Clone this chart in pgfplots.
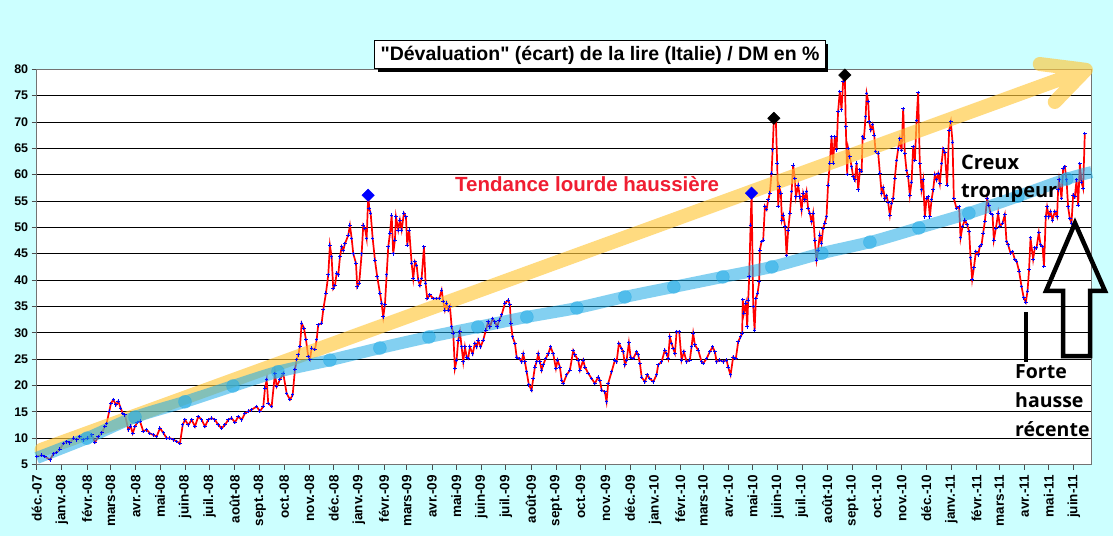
\documentclass[border=0pt]{standalone}
\usepackage{fontspec}
\setmainfont{Liberation Sans}
\newfontfamily\annfont{Open Sans}
\usepackage{pgfplots}
\pgfplotsset{compat=1.18}
\usetikzlibrary{shadows}
\definecolor{bgc}{RGB}{204,255,255}
\definecolor{trendblue}{RGB}{30,170,230}
\definecolor{arrowyellow}{RGB}{255,200,60}
\definecolor{tred}{RGB}{240,30,50}
\begin{document}
\begin{tikzpicture}[x=1pt,y=1pt]
\fill[bgc] (0,0) rectangle (1113,536);
\path[use as bounding box] (0,0) rectangle (1113,536);
\begin{axis}[
  at={(36.7pt,71.5pt)}, anchor=south west,
  scale only axis, width=1055pt, height=395.2pt,
  xmin=0, xmax=1300, ymin=5, ymax=80,
  axis background/.style={fill=white},
  clip=false,
  ytick={5,10,...,80},
  ymajorgrids, major grid style={black, line width=0.9pt},
  xtick={0,31,62,91,122,152,183,213,244,275,305,336,366,397,428,456,487,517,548,578,609,640,670,701,731,762,793,821,852,882,913,943,974,1005,1035,1066,1096,1127,1158,1186,1217,1247,1278},
  xticklabels={déc.-07,janv.-08,févr.-08,mars-08,avr.-08,mai-08,juin-08,juil.-08,août-08,sept.-08,oct.-08,nov.-08,déc.-08,janv.-09,févr.-09,mars-09,avr.-09,mai-09,juin-09,juil.-09,août-09,sept.-09,oct.-09,nov.-09,déc.-09,janv.-10,févr.-10,mars-10,avr.-10,mai-10,juin-10,juil.-10,août-10,sept.-10,oct.-10,nov.-10,déc.-10,janv.-11,févr.-11,mars-11,avr.-11,mai-11,juin-11},
  tick align=outside, xtick pos=lower, ytick pos=left,
  major tick length=5pt,
  tick style={black!70, line width=0.8pt},
  axis line style={black!55, line width=0.9pt},
  /pgf/number format/assume math mode=true,
  yticklabel style={font=\fontsize{12.5}{12.5}\selectfont\bfseries},
  xticklabel style={rotate=90, anchor=east, font=\fontsize{13.5}{13.5}\selectfont\bfseries},
  xticklabel shift=2pt,
]
% data series
\addplot[red, line width=1.7pt, mark=+, mark size=1.8pt, mark options={blue, line width=1pt, solid}] coordinates {
(0,6.5)(6.2,6.8)(10.2,6.5)(16.4,5.9)(20.5,7.0)(24.6,7.3)(28.7,7.9)(32.8,9.0)(37,9.3)(41,9.1)(45.1,10.0)(49.3,9.7)(53.3,10.3)(57.4,9.7)(62.3,10.0)(67.8,10.6)(71.8,9.2)(75.9,10.3)(80.1,11.0)(84.1,12.2)(86.2,12.8)(89.4,15.1)(91.5,16.6)(94.4,17.3)(97.7,16.3)(100.5,17.0)(103.5,15.7)(106,14.7)(108.8,14.4)(112.9,11.6)(115.8,12.3)(118.3,10.9)(121.1,12.2)(123.9,13.0)(127.3,13.2)(131.3,11.3)(135.5,11.6)(139.6,10.9)(143.7,10.6)(147.8,10.3)(151.9,11.9)(156,11.0)(160.2,10.0)(164.2,10.0)(168.3,9.7)(172.5,9.4)(176.5,9.0)(179.9,12.5)(182.7,13.5)(186.8,12.5)(191,13.5)(195,12.2)(199.1,14.1)(203.3,13.5)(207.3,12.2)(211.4,13.5)(215.6,13.8)(219.7,13.5)(223.7,12.5)(227.9,11.9)(232,12.5)(236,13.5)(240.2,13.8)(244.3,13.0)(248.4,14.1)(252.6,13.5)(256.6,14.7)(260.7,15.1)(264.9,15.4)(271,16.0)(275.1,15.1)(279.2,16.0)(281.3,19.5)(283.4,21.1)(285.3,16.6)(289.5,16.0)(293.6,22.3)(295.7,19.8)(299.7,21.1)(303.8,22.3)(308,18.5)(312.1,17.3)(315.4,18.2)(318.2,23.0)(320.3,24.9)(322.3,25.8)(324.4,27.4)(326.5,31.8)(329.3,30.9)(331.8,28.7)(334.6,25.5)(336.7,24.9)(338.8,27.1)(342.9,26.8)(345,28.7)(346.9,31.5)(351.1,31.8)(353.1,34.4)(356.4,37.5)
(359.3,41.0)(361.3,46.6)(363.4,44.4)(365.4,38.4)(367.5,39.0)(369.6,41.3)(371.6,41.0)(373.7,44.4)(375.8,46.3)(377.7,45.6)(379.8,46.9)(383.9,48.5)(386,50.4)(388.1,47.9)(390.1,45.0)(393.4,43.2)(395,38.7)(397.4,39.4)(400.4,45.0)(402.4,50.4)(404.5,49.8)(406.6,47.9)(408.5,56.1)(409.8,53.6)(411.5,52.7)(414,47.9)(416.8,43.8)(419.6,40.6)(423,37.5)(425,35.6)(427,33.0)(429.1,35.3)(431.2,41.0)(433.2,46.3)(435.3,48.9)(437.4,52.3)(439.3,45.0)(441.4,47.6)(442.7,52.0)(445.5,49.5)(447.6,51.4)(449.7,49.5)(452.5,52.7)(455,52.0)(456.6,46.6)(459,49.5)(462,43.2)(464,40.3)(466.1,43.5)(468.2,42.8)(470.1,40.0)(472.2,39.0)(474.3,40.3)(477.2,46.3)(479.2,39.4)(481.2,36.5)(484.5,37.2)(488.6,36.5)(492.8,36.5)(496,36.5)(499,38.1)(501,35.9)(503,34.3)(505.1,35.6)(507.1,34.3)(509.2,35.0)
(511.3,31.1)(513.3,29.9)(515.3,23.2)(517.4,24.8)(519.4,28.6)(521.5,30.2)(523.6,27.3)(525.6,24.5)(527.7,27.3)(529.8,25.4)(531.7,25.1)(533.8,27.3)(537.2,26.0)(540,28.0)(542.1,27.3)(544,28.6)(547,27.3)(550.2,28.6)(553.5,30.5)(556.4,32.1)(558.5,31.1)(561.8,32.7)(564.6,32.1)(567.5,31.1)(569.9,32.4)(572.9,33.4)(577,35.6)(581,36.2)(583.1,35.3)(584.3,31.8)(586.4,29.2)(589.3,28.0)(591.4,25.4)(594.6,25.1)(597.5,24.5)(599.5,26.0)(601.6,24.5)(603.7,22.6)(606.5,20.1)(609.8,19.1)(611.8,21.3)(613.9,23.5)(616,24.5)(618,26.0)(620.1,24.5)(622.2,22.9)(624.1,23.9)(627.1,25.1)(630.3,26.0)(633.2,27.3)(636.5,26.0)(639.8,23.2)(641.9,24.8)(644.7,23.5)(646.8,21.0)(648.8,20.4)
(653,22.0)(657,22.9)(661.1,26.6)(663.2,25.8)(667.3,24.8)(669.4,22.9)(673.4,24.8)(675.5,23.5)(679.6,22.3)(683.8,21.3)(687.8,20.4)(691.9,21.6)(694,21.0)(696.1,19.1)(700.1,18.8)(702.2,16.9)(704.2,20.4)(708.4,22.6)(712.5,24.8)(714.6,24.5)(717.4,28.0)(720.7,27.0)(722.7,26.4)(724.8,23.9)(726.9,24.8)(729.7,28.1)(731.8,25.4)(735,25.1)(739.2,26.4)(741.2,25.8)(743.3,24.2)(745.4,21.6)(749.4,20.7)(752.3,22.0)(755.6,21.3)(759.7,20.7)(763.8,22.0)(765.8,23.9)(770,24.5)(774,26.7)(776.2,26.0)(778.1,25.1)(780.2,29.2)(782.3,28.0)(784.3,27.0)(786.4,26.1)(788.5,30.2)(791.7,30.2)(794.6,24.8)(797.5,26.4)(800.8,24.5)(804.8,24.8)(806.9,27.3)(808.9,29.9)(811,27.7)(815.1,26.7)(819.3,24.5)(821.3,24.2)(825.4,25.1)(829.5,26.4)(832.8,27.3)(835.7,26.4)(837.8,24.5)(841.8,24.8)(845.9,24.5)(850.1,24.8)(852,23.5)(855,22.0)(858.2,25.4)(861.5,25.1)(864.4,28.3)(867.3,29.2)(869.3,29.9)
(870,36.3)(871.4,33.7)(873.9,35.6)(875.5,31.1)(876.7,36.2)(878,40.6)(879.6,50.4)(880.9,56.5)(882.9,35.0)(884.6,30.5)(886.2,36.5)(888.3,37.5)(890.3,39.7)(891.1,45.7)(893.2,47.3)(895.2,47.6)(897.3,54.0)(899.4,53.4)(901.3,55.2)(903.4,56.5)(905.5,60.3)(906.8,64.7)(908.4,70.7)(910.8,70.4)(912.4,62.2)(913.7,54.0)(914.9,57.7)(917,56.5)(918.2,51.4)(919.8,52.3)(922.3,50.1)(924,44.7)(926,49.5)(928.1,52.7)(930.2,56.8)(932.1,61.8)(934.2,59.3)(935.5,55.8)(938.3,58.0)(940.4,55.8)(942.5,53.3)(944.4,56.5)(946.5,55.2)(948.6,56.8)(950.5,53.6)(952.6,52.7)(954.7,51.1)(956.7,52.7)(958.8,47.6)(960.9,43.8)(962.8,45.7)(964.9,48.5)(967,47.0)(969,49.8)(971.1,50.8)(973.2,52.0)(975.1,58.0)(977.3,62.2)(979.4,67.2)(981.3,62.2)(983.4,67.2)(985.6,64.7)(987.5,72.0)(989.6,75.8)(991.7,72.3)(993.7,77.7)(995.8,78.9)(997,69.1)(998.7,60.0)(999.9,65.0)(1002,63.4)(1004.1,61.5)(1006.1,59.6)(1008.2,59.0)(1010.3,62.2)(1012.3,57.1)(1014.4,60.9)(1016.5,60.6)(1017.7,67.2)(1019.3,66.9)(1021.4,71.0)(1022.7,75.4)(1024.6,73.9)(1025.8,70.0)(1027.9,68.5)(1030,69.5)(1032,67.5)(1033.7,64.4)(1036.9,64.1)(1039,60.3)(1041.1,56.5)(1043,57.5)(1045.1,55.4)(1047.2,56.0)(1049.2,54.7)(1051.3,52.3)
(1053.4,54.6)(1055.3,55.5)(1057.4,59.3)(1059.5,62.7)(1061.5,64.9)(1063.6,66.8)(1065.7,64.6)(1067.7,72.5)(1069.7,64.0)(1071.8,60.8)(1073.8,59.6)(1075.9,56.1)(1078,58.6)(1080,65.3)(1082.1,62.7)(1084.2,70.3)(1086.1,75.6)(1088.2,62.1)(1090.3,57.1)(1092.3,59.0)(1094.4,52.0)(1096.5,55.5)(1098.4,55.8)(1100.6,52.0)(1102.6,55.2)(1104.6,57.1)(1106.7,60.0)(1108.8,59.0)(1110.8,60.2)(1112.9,58.3)(1115,62.1)(1116.9,64.9)(1119,64.3)(1121.8,58.0)(1124.3,68.4)(1126.4,70.0)(1128.5,66.2)(1130.1,55.5)(1133.4,53.6)(1136.6,53.9)(1138.4,48.0)(1140.8,50.2)(1143.7,51.4)(1146.5,50.5)(1149,49.2)(1150.7,44.2)(1152.7,40.1)(1154.8,42.3)(1157.3,45.4)(1160.1,44.8)(1162.2,46.4)(1164.3,46.7)(1166.2,48.9)(1168.3,51.1)(1171.1,55.5)(1173.2,54.2)(1175.3,52.7)(1177.8,52.4)(1179.4,47.6)(1181.9,49.8)(1184.7,52.7)(1186.8,50.2)(1190.1,50.8)(1192.9,52.4)(1195,47.3)(1197,46.7)(1200,45.1)(1202.4,45.4)(1205.3,43.9)(1207.4,43.6)(1210.5,41.7)(1213.5,38.8)(1216.3,36.6)(1218.8,35.8)(1220.9,37.9)(1222.8,42.0)(1224.6,48.0)(1227.8,43.9)(1229.9,46.1)(1232,46.1)(1234.8,49.0)(1236.9,46.7)(1239.4,46.4)(1241.2,42.6)(1243.4,52.0)(1245,53.9)(1247.1,52.0)(1249.2,53.0)(1251.6,51.4)(1254.5,53.0)(1257.3,52.0)(1258.6,57.1)(1259.8,59.0)(1262.8,55.5)(1264.8,61.2)(1266.9,61.5)(1269,59.0)(1270.9,53.9)(1273,51.7)(1275.1,50.8)(1277.1,56.1)(1279.2,55.8)(1281.3,59.0)(1283.3,54.2)(1285.4,62.1)(1287.4,58.6)(1289.4,57.4)(1291.5,67.8)
};
% highlighted peaks
\addplot[blue, only marks, mark=square*, mark size=4.4pt, mark options={rotate=45, fill=blue, draw=blue}] coordinates {(408.5,56.1)(880.9,56.5)};
\addplot[black, only marks, mark=square*, mark size=4.4pt, mark options={rotate=45, fill=black, draw=black}] coordinates {(908.4,70.7)(995.8,78.9)};
% yellow arrow (heavy upward trend)
\addplot[arrowyellow, opacity=0.65, line width=14pt, line cap=round, line join=round, unbounded coords=jump] coordinates {(6,7.8)(1292.8,79.9)(1236,81.0)(nan,nan)(1292.8,79.9)(1254.5,73.8)};
% blue trend curve
\addplot[trendblue, opacity=0.55, line width=12pt, smooth] coordinates {(0,6.24)(62,10.0)(121.1,14.0)(182.7,16.9)(241.9,19.9)(297.3,22.6)(361.3,24.8)(422.9,27.1)(483.3,29.2)(543.6,31.1)(604,33.0)(665.6,34.7)(724.8,36.8)(785.1,38.7)(845.5,40.6)(905.9,42.5)(967.5,45.1)(1026.7,47.2)(1087,49.9)(1148.6,52.7)(1209,55.9)(1269.3,59.2)(1300,60.5)};
\addplot[trendblue, only marks, mark=*, mark size=6.5pt, mark options={fill=trendblue, draw=trendblue, opacity=0.5}] coordinates {(62,10.0)(121.1,14.0)(182.7,16.9)(241.9,19.9)(297.3,22.6)(361.3,24.8)(422.9,27.1)(483.3,29.2)(543.6,31.1)(604,33.0)(665.6,34.7)(724.8,36.8)(785.1,38.7)(845.5,40.6)(905.9,42.5)(967.5,45.1)(1026.7,47.2)(1087,49.9)(1148.6,52.7)(1209,55.9)(1269.3,59.2)};
\end{axis}
% title
\node[draw=black, line width=1pt, fill=white, drop shadow={shadow xshift=3pt, shadow yshift=-3pt, opacity=1, fill=black}, inner xsep=6pt, minimum height=28pt, font=\fontsize{19.5}{19.5}\selectfont\bfseries] at (600,481) {\textquotedbl Dévaluation\textquotedbl{} (écart) de la lire (Italie) / DM en \%};
% annotations
\node[anchor=base west, inner sep=0pt, text=tred, font=\fontsize{20.5}{20.5}\selectfont\bfseries] at (455,344) {Tendance lourde haussière};
\node[anchor=base west, inner sep=0pt, font=\annfont\fontsize{20}{20}\selectfont\bfseries] at (961,366) {Creux};
\node[anchor=base west, inner sep=0pt, font=\annfont\fontsize{20}{20}\selectfont\bfseries] at (961,338) {trompeur};
\node[anchor=base west, inner sep=0pt, font=\annfont\fontsize{19.5}{19.5}\selectfont\bfseries] at (1015,158) {Forte};
\node[anchor=base west, inner sep=0pt, font=\annfont\fontsize{19.5}{19.5}\selectfont\bfseries] at (1015,129) {hausse};
\node[anchor=base west, inner sep=0pt, font=\annfont\fontsize{19.5}{19.5}\selectfont\bfseries] at (1015,100) {récente};
\draw[black, line width=4pt] (1026,224) -- (1026,174);
\draw[black, line width=4.5pt, line join=miter] (1075,313) -- (1105,245) -- (1090,245) -- (1090,180) -- (1063,180) -- (1063,245) -- (1046,245) -- cycle;
\end{tikzpicture}
\end{document}
